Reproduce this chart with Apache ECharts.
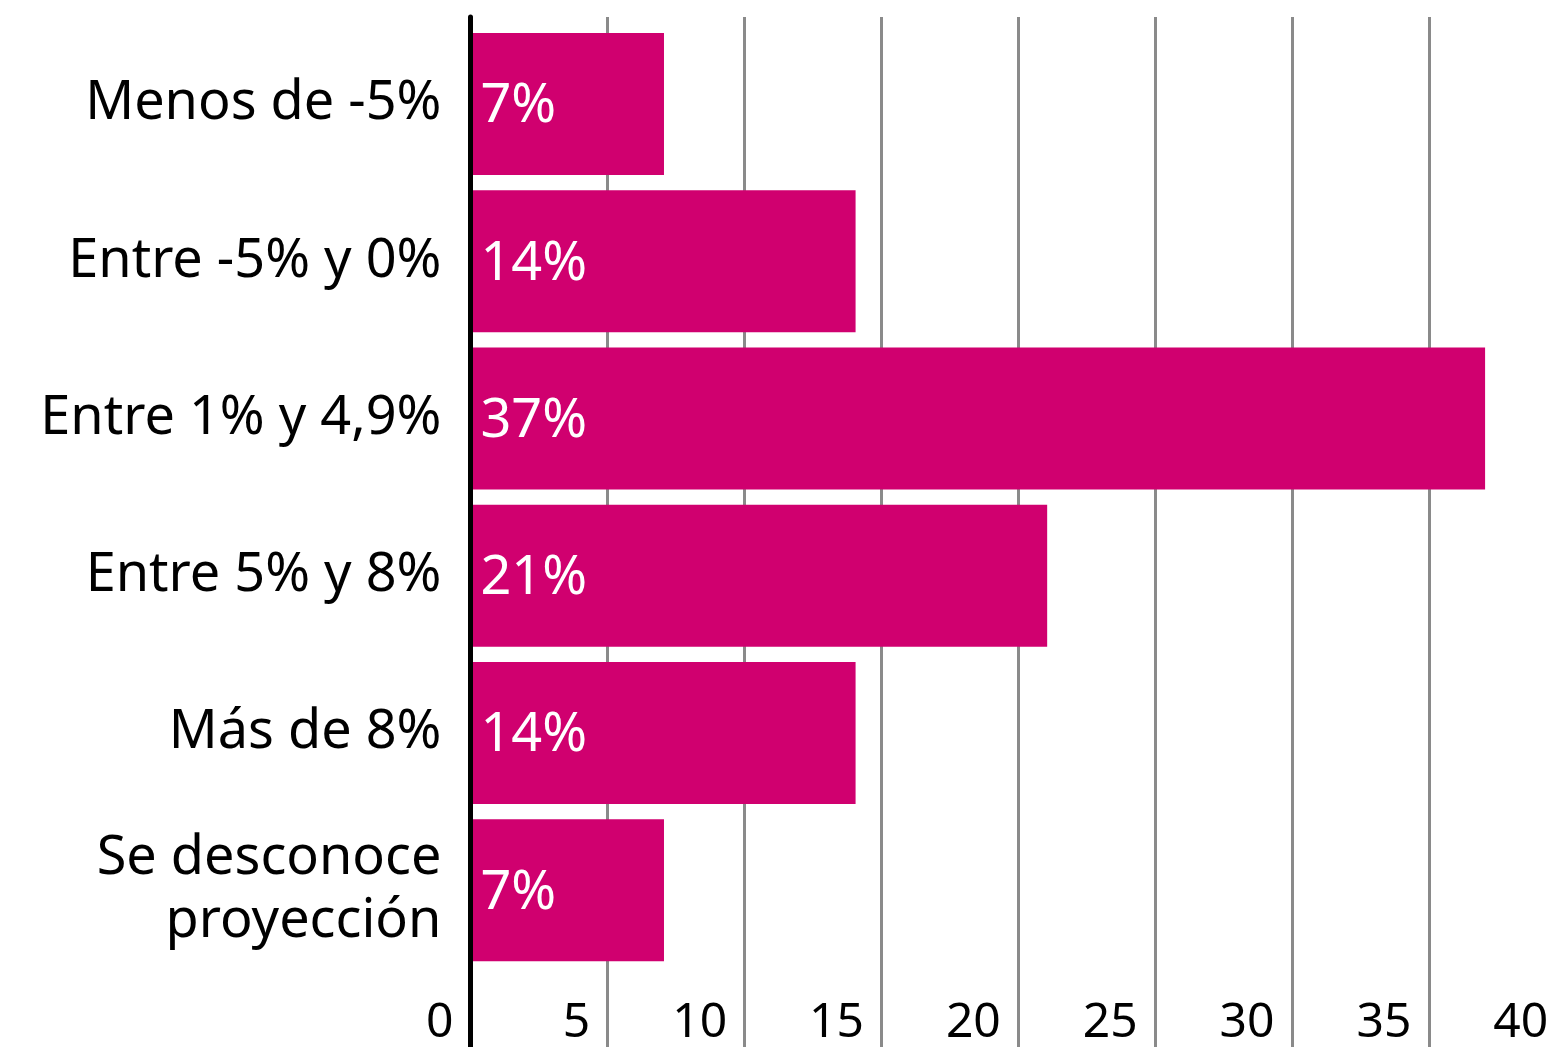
<!DOCTYPE html>
<html>
<head>
<meta charset="utf-8">
<title>Proyección</title>
<script src="https://cdn.jsdelivr.net/npm/echarts@6/dist/echarts.min.js"></script>
<style>
  html, body { margin: 0; padding: 0; overflow: hidden; background: #fff; }
  #chart { width: 1600px; height: 1047px; }
</style>
</head>
<body>
<div id="chart"></div>
<script>
const categories = [
  'Menos de -5%',
  'Entre -5% y 0%',
  'Entre 1% y 4,9%',
  'Entre 5% y 8%',
  'Más de 8%',
  'Se desconoce\nproyección'
]
const values = [7, 14, 37, 21, 14, 7]
const xMin = 0
const xMax = 40
const xStep = 5

const font = 'Noto Sans'
const barColor = '#d0006f'
const gridColor = '#8a8a8a'

const chart = echarts.init(document.getElementById('chart'))

chart.setOption({
  animation: false,
  grid: [
    // bars (they start right after the thick axis line)
    { left: 472.4, width: 1094.8, top: 25.3, height: 944.4 },
    // lines that run the full height
    { left: 469.8, width: 1097, top: 17, bottom: 0 }
  ],
  xAxis: [
    {
      gridIndex: 0,
      type: 'value',
      min: xMin,
      max: xMax,
      interval: xStep,
      axisLine: { show: false },
      axisTick: { show: false },
      splitLine: { show: false },
      axisLabel: {
        show: true,
        showMinLabel: true,
        showMaxLabel: true,
        align: 'right',
        margin: 30,
        padding: [0, 19, 0, 0],
        fontFamily: font,
        fontSize: 48,
        lineHeight: 48,
        color: '#000'
      }
    },
    {
      gridIndex: 1,
      type: 'value',
      min: xMin,
      max: xMax,
      interval: xStep,
      z: 0,
      axisLine: { show: false },
      axisTick: { show: false },
      axisLabel: { show: false },
      splitLine: { show: true, lineStyle: { color: gridColor, width: 3 } }
    }
  ],
  yAxis: [
    {
      gridIndex: 0,
      type: 'category',
      inverse: true,
      data: categories,
      axisLine: { show: false },
      axisTick: { show: false },
      splitLine: { show: false },
      axisLabel: {
        margin: 31,
        padding: [5, 0, 0, 0],
        fontFamily: font,
        fontSize: 54,
        lineHeight: 63,
        color: '#000'
      }
    },
    {
      gridIndex: 1,
      type: 'value',
      min: 0,
      max: 1,
      z: 10,
      axisLine: { show: true, onZero: false, lineStyle: { color: '#000', width: 5 } },
      axisTick: { show: false },
      axisLabel: { show: false },
      splitLine: { show: false }
    }
  ],
  series: [
    {
      type: 'bar',
      xAxisIndex: 0,
      yAxisIndex: 0,
      data: values,
      barWidth: 142,
      itemStyle: { color: barColor },
      label: {
        show: true,
        position: 'insideLeft',
        distance: 8,
        offset: [0, 3],
        formatter: '{c}%',
        fontFamily: font,
        fontSize: 54,
        color: '#fff'
      }
    }
  ]
})
</script>
</body>
</html>
